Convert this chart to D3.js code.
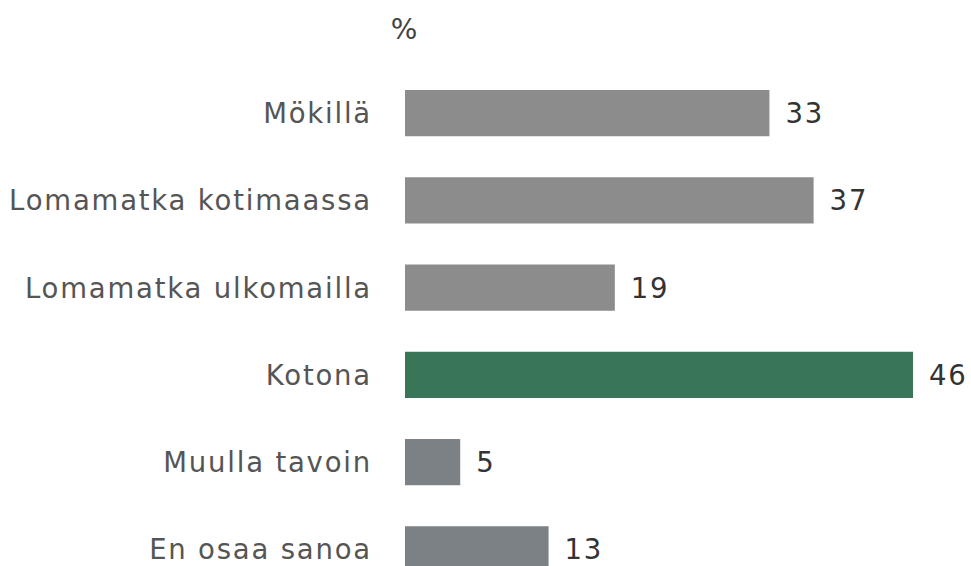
<!DOCTYPE html>
<html><head><meta charset="utf-8">
<script src="https://cdn.jsdelivr.net/npm/d3@7"></script>
<style>body{margin:0;background:#fff;}svg{display:block;}</style>
</head><body>
<svg id="c" width="971" height="566"></svg>
<script>
const categories = ["Mökillä","Lomamatka kotimaassa","Lomamatka ulkomailla","Kotona","Muulla tavoin","En osaa sanoa"];
const values = [33,37,19,46,5,13];
const colors = ["#8c8c8c","#8c8c8c","#8c8c8c","#387657","#7c8185","#7c8185"];
const unitLabel = "%";

const svg = d3.select("#c");
const font = "'DejaVu Sans', sans-serif";
const x = d3.scaleLinear().domain([0,46]).range([405,913]);
const y = d3.scaleBand().domain(categories).range([69.5,593]).paddingInner(0.47).paddingOuter(0.235);

svg.append("text").attr("x",404).attr("y",39).attr("text-anchor","middle")
  .attr("font-family",font).attr("font-size",28).attr("fill","#444").text(unitLabel);

svg.selectAll("rect.bar").data(values).enter().append("rect").attr("class","bar")
  .attr("x",x(0)).attr("y",(d,i)=>y(categories[i]))
  .attr("width",d=>x(d)-x(0)).attr("height",y.bandwidth())
  .attr("fill",(d,i)=>colors[i]);

svg.selectAll("text.cat").data(categories).enter().append("text").attr("class","cat")
  .attr("x",372).attr("y",d=>y(d)+y.bandwidth()/2).attr("dy","0.36em")
  .attr("text-anchor","end").attr("font-family",font).attr("font-size",27.5)
  .attr("letter-spacing",1.8).attr("fill","#555").text(d=>d);

svg.selectAll("text.val").data(values).enter().append("text").attr("class","val")
  .attr("x",d=>x(d)+16).attr("y",(d,i)=>y(categories[i])+y.bandwidth()/2).attr("dy","0.36em")
  .attr("font-family",font).attr("font-size",27.5).attr("letter-spacing",1.8)
  .attr("fill","#333").text(d=>d);
</script>
</body></html>
